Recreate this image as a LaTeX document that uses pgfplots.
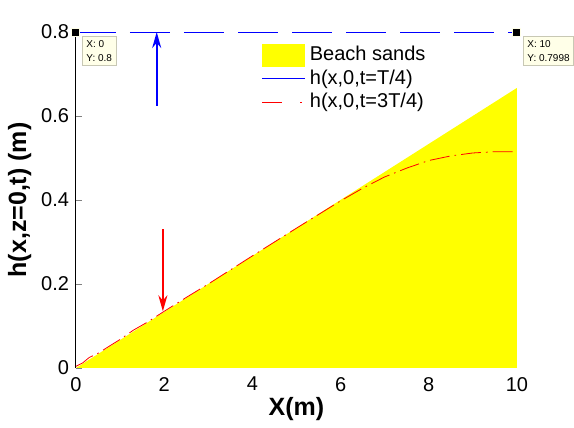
\documentclass[border=0pt]{standalone}
\usepackage{pgfplots}
\pgfplotsset{compat=1.18}
\usepackage{fontspec}
\setmainfont{Liberation Sans}
\usetikzlibrary{arrows.meta}
\definecolor{tipbg}{RGB}{255,255,232}
\definecolor{tipbd}{RGB}{200,200,180}
\definecolor{sand}{RGB}{255,255,0}
\begin{document}
\begin{tikzpicture}
\begin{axis}[
  scale only axis, width=220.5pt, height=168pt,
  xmin=0, xmax=10, ymin=0, ymax=0.8,
  axis x line*=bottom, axis y line*=left,
  x axis line style={draw=none},
  y axis line style={black, line width=0.5pt},
  xtick={0,2,...,10}, ytick={0,0.2,0.4,0.6,0.8},
  tick align=inside, major tick length=3pt,
  x tick style={draw=none},
  yticklabels={0,0.2,0.4,0.6,0.8},
  /pgf/number format/assume math mode=true,
  tick label style={font=\fontsize{10}{12}\selectfont},
  xticklabel style={yshift=-1pt},
  xlabel={\textbf{X(m)}}, ylabel={\textbf{h(x,z=0,t) (m)}},
  label style={font=\fontsize{12.5}{14}\selectfont},
  xlabel style={yshift=4pt},
  ylabel style={yshift=-2pt},
  clip=false,
  legend style={draw=none, fill=none, at={(0.407,0.982)}, anchor=north west,
    font=\fontsize{10}{12}\selectfont, row sep=-1pt},
  legend cell align=left,
]
\addplot[fill=sand, draw=none, area legend,
  legend image code/.code={\fill[sand] (0cm,-5.75pt) rectangle (21.5pt,5.75pt);}]
  coordinates {(0,0) (10,0.667) (10,0) (0,0)} \closedcycle;
\addlegendentry{Beach sands}
\addplot[blue, line width=0.5pt, dash pattern=on 20pt off 7pt,
  legend image code/.code={\draw[blue, solid, line width=0.5pt] (0cm,0cm) -- (21.5pt,0cm);}]
  coordinates {(0,0.8) (10,0.8)};
\addlegendentry{h(x,0,t=T/4)}
\addplot[red, line width=0.4pt, dash pattern=on 10pt off 2.5pt on 0.8pt off 2.5pt,
  legend image code/.code={\draw[red, line width=0.5pt] (0cm,0cm) -- (12pt,0cm); \draw[red,line width=0.5pt] (19pt,0cm)--(19.8pt,0cm);}]
  coordinates {(0,0.004) (0.15,0.012) (0.3,0.025) (0.5,0.035) (0.8,0.055) (1.0,0.068) (1.3,0.09) (1.6,0.108) (2,0.135) (2.5,0.168) (3,0.2) (4,0.267) (5,0.333) (6,0.398) (6.5,0.428) (7,0.455) (7.5,0.476) (8,0.494) (8.5,0.505) (9,0.512) (9.5,0.515) (10,0.515)};
\addlegendentry{h(x,0,t=3T/4)}
% arrows
\draw[blue, line width=1pt, -{Stealth[length=8pt,width=4.5pt]}] (axis cs:1.83,0.625) -- (axis cs:1.83,0.8);
\draw[red, line width=1pt, -{Stealth[length=8pt,width=4.5pt]}] (axis cs:1.97,0.33) -- (axis cs:1.97,0.135);
% data tips
\addplot[only marks, mark=square*, mark size=2pt, mark options={fill=black, draw=tipbg, line width=0.5pt}, forget plot] coordinates {(0,0.8) (10,0.8)};
\node[anchor=north west, fill=tipbg, draw=tipbd, line width=0.4pt, inner sep=2pt, align=left,
  font=\fontsize{5}{7}\selectfont] at ([xshift=3pt,yshift=-2pt]axis cs:0,0.8) {X: 0\\Y: 0.8};
\node[anchor=north west, fill=tipbg, draw=tipbd, line width=0.4pt, inner sep=2pt, align=left,
  font=\fontsize{5}{7}\selectfont, overlay] at ([xshift=3pt,yshift=-2pt]axis cs:10,0.8) {X: 10\\Y: 0.7998};
\end{axis}
\path[use as bounding box] (-38pt,-30pt) rectangle (249pt,184pt);
\end{tikzpicture}
\end{document}
